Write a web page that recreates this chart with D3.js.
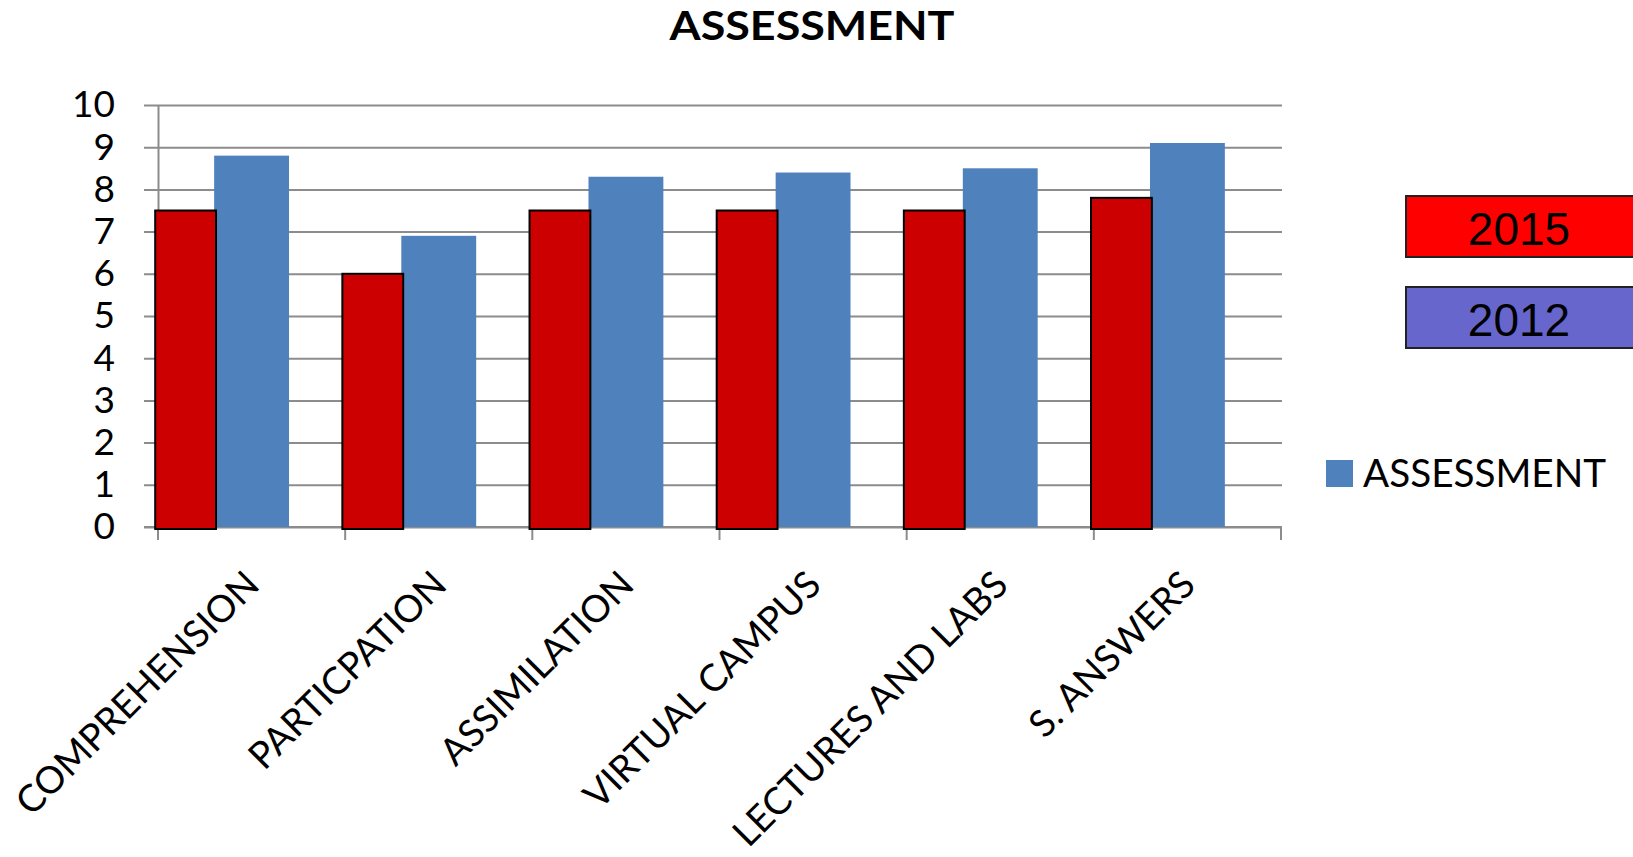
<!DOCTYPE html>
<html>
<head>
<meta charset="utf-8">
<script src="https://cdn.jsdelivr.net/npm/d3@7"></script>
<style>
	body { margin: 0; background: #fff; }
	svg { display: block; }
</style>
</head>
<body>
<div id="chart"></div>
<script>
var categories = ["COMPREHENSION", "PARTICPATION", "ASSIMILATION", "VIRTUAL CAMPUS", "LECTURES AND LABS", "S. ANSWERS"];
// blue series (the real chart series, 2012)
var assessment = [8.8, 6.9, 8.3, 8.4, 8.5, 9.1];
// red overlay bars (2015)
var values2015 = [7.5, 6.0, 7.5, 7.5, 7.5, 7.8];
var yTicks = [0, 1, 2, 3, 4, 5, 6, 7, 8, 9, 10];
var seriesName = "ASSESSMENT";
var boxLabels = ["2015", "2012"];
var boxColors = ["#ff0000", "#6666cc"];

var fullWidth = 1633;
var fullHeight = 857;
var margin = {top: 105, right: 352, bottom: 330, left: 158};
var width = fullWidth - margin.left - margin.right;
var height = fullHeight - margin.top - margin.bottom;

var root = d3.select("#chart")
	.append("svg")
		.attr("width", fullWidth)
		.attr("height", fullHeight)
		.style("font-family", "Lato, 'Open Sans', sans-serif");

svg = root.append("g")
		.attr("transform", "translate(" + margin.left + "," + margin.top + ")");

var x = d3.scaleBand()
	.domain(categories)
	.range([0, width])
	.padding(0);
var bw = x.bandwidth();

var y = d3.scaleLinear()
	.domain([0, 10])
	.range([height, 0]);

// gridlines + left axis
svg.append("g")
	.attr("class", "grid")
	.call(d3.axisLeft(y).tickValues(yTicks).tickSize(-width - 1).tickFormat("").tickSizeOuter(0))
	.call(g => g.select(".domain").remove())
	.call(g => g.selectAll("line")
		.attr("x1", -14)
		.attr("stroke", "#8c8c8c")
		.attr("stroke-width", 2));

svg.append("g")
	.call(d3.axisLeft(y).tickValues(yTicks).tickSize(0).tickPadding(43))
	.call(g => g.select(".domain")
		.attr("stroke", "#8c8c8c")
		.attr("stroke-width", 2))
	.call(g => g.selectAll("text")
		.attr("font-size", 37)
		.attr("fill", "#000")
		.attr("font-family", "Lato, sans-serif"));

// bottom axis with ticks at the category edges
svg.append("line")
	.attr("x1", -14).attr("x2", width + 1)
	.attr("y1", height).attr("y2", height)
	.attr("stroke", "#8c8c8c")
	.attr("stroke-width", 2);

svg.selectAll(".cattick")
	.data(categories.concat([null]))
	.enter()
	.append("line")
		.attr("class", "cattick")
		.attr("x1", function(d, i) { return i * bw; })
		.attr("x2", function(d, i) { return i * bw; })
		.attr("y1", height)
		.attr("y2", height + 13)
		.attr("stroke", "#8c8c8c")
		.attr("stroke-width", 2);

// blue bars
svg.selectAll(".blue")
	.data(assessment)
	.enter()
	.append("rect")
		.attr("class", "blue")
		.attr("x", function(d, i) { return x(categories[i]) + bw * 0.3; })
		.attr("y", function(d) { return y(d); })
		.attr("width", bw * 0.4)
		.attr("height", function(d) { return height - y(d); })
		.style("fill", "#4f81bd");

// red overlay bars
svg.selectAll(".red")
	.data(values2015)
	.enter()
	.append("rect")
		.attr("class", "red")
		.attr("x", function(d, i) { return x(categories[i]) - bw * 0.015; })
		.attr("y", function(d) { return y(d); })
		.attr("width", bw * 0.325)
		.attr("height", function(d) { return height - y(d) + 2; })
		.style("fill", "#cc0000")
		.style("stroke", "#000")
		.style("stroke-width", 2);

// category labels
svg.selectAll(".catlabel")
	.data(categories)
	.enter()
	.append("text")
		.attr("class", "catlabel")
		.attr("transform", function(d) { return "translate(" + (x(d) + bw / 2 + 10) + "," + (height + 60) + ") rotate(-45)"; })
		.attr("text-anchor", "end")
		.attr("font-size", 37.5)
		.attr("fill", "#000")
		.text(function(d) { return d; });

// title
root.append("text")
	.attr("x", 812)
	.attr("y", 40)
	.attr("text-anchor", "middle")
	.attr("font-size", 41)
	.attr("font-weight", "bold")
	.attr("textLength", 285)
	.attr("lengthAdjust", "spacingAndGlyphs")
	.attr("fill", "#000")
	.text(seriesName);

// legend
var leg = root.append("g")
	.attr("transform", "translate(1326,460)");
leg.append("rect")
	.attr("width", 27)
	.attr("height", 27)
	.style("fill", "#4f81bd");
leg.append("text")
	.attr("x", 37)
	.attr("y", 27)
	.attr("font-size", 38)
	.attr("textLength", 243)
	.attr("lengthAdjust", "spacingAndGlyphs")
	.attr("fill", "#000")
	.text(seriesName);

// year boxes
var boxes = root.selectAll(".yearbox")
	.data(boxLabels)
	.enter()
	.append("g")
		.attr("class", "yearbox")
		.attr("transform", function(d, i) { return "translate(1406," + (196 + i * 91) + ")"; });
boxes.append("rect")
	.attr("width", 240)
	.attr("height", 61)
	.style("fill", function(d, i) { return boxColors[i]; })
	.style("stroke", "#222")
	.style("stroke-width", 2);
boxes.append("text")
	.attr("x", 113)
	.attr("y", 49)
	.attr("text-anchor", "middle")
	.attr("font-family", "'Liberation Sans', Arial, sans-serif")
	.attr("font-size", 46)
	.attr("fill", "#000")
	.text(function(d) { return d; });
</script>
</body>
</html>
